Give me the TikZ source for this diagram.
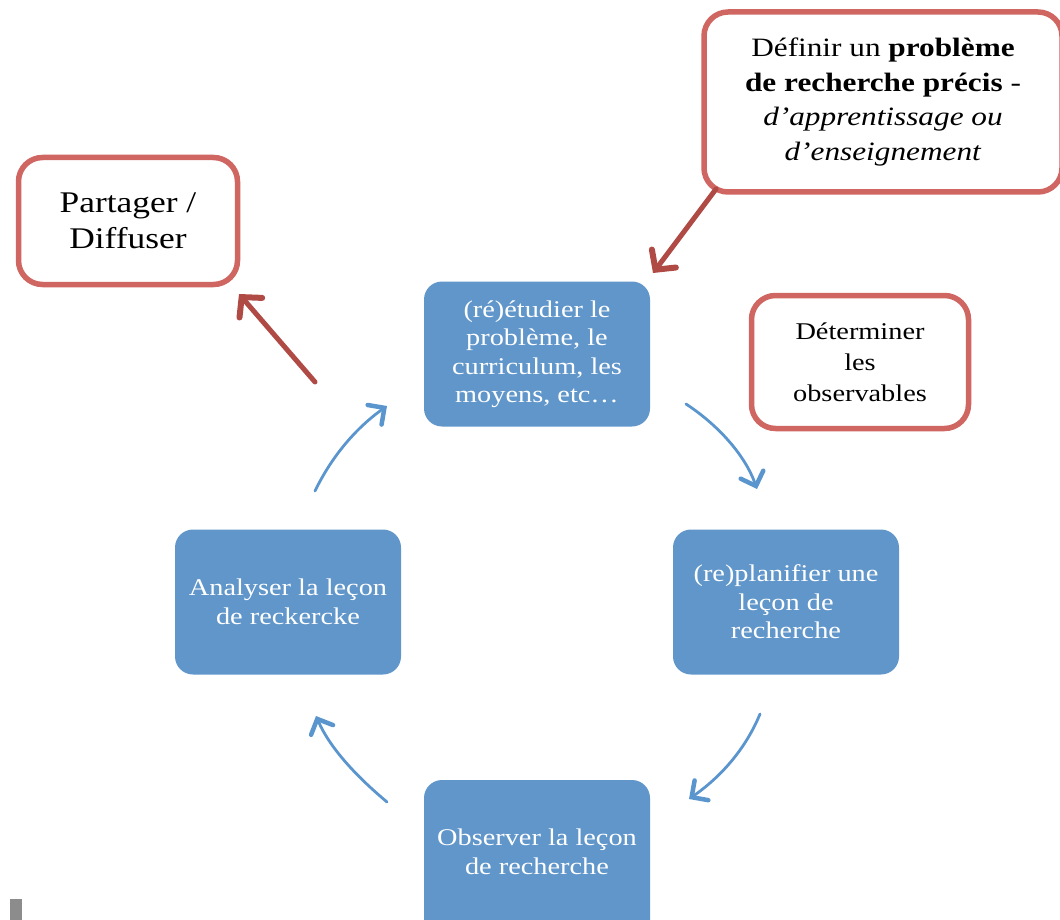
\documentclass[tikz,border=0pt]{standalone}
\usepackage{fontspec}
\setmainfont[FakeStretch=1.18]{Liberation Serif}
\usetikzlibrary{arrows.meta}
\definecolor{boxblue}{HTML}{6096CA}
\definecolor{boxred}{HTML}{CF6661}
\definecolor{arrred}{HTML}{B04A44}
\definecolor{arrblue}{HTML}{5B95CE}
\tikzset{
  bluebox/.style={fill=boxblue, draw=none, rounded corners=18pt, text=white,
    align=center, minimum width=226pt, minimum height=145pt, inner sep=2pt,
    font=\fontsize{24}{28.5}\selectfont},
  redbox/.style={fill=white, draw=boxred, line width=5.5pt, rounded corners=24pt,
    align=center, inner sep=2pt},
  cyc/.style={draw=arrblue, line width=2.8pt, line cap=round,
    -{Straight Barb[length=12pt, width=24pt, line cap=round, line width=4.5pt]}},
  redarr/.style={draw=arrred, line width=5pt, line cap=round,
    -{Straight Barb[length=14pt, width=30pt, line cap=round, line width=6pt]}},
}
\begin{document}
\begin{tikzpicture}[x=1pt,y=-1pt]
\useasboundingbox (0,0) rectangle (1060,920);
\clip (0,0) rectangle (1060,920);
% blue cycle boxes
\node[bluebox] (etud) at (537,354) {(ré)étudier le\\problème, le\\curriculum, les\\moyens, etc…};
\node[bluebox] (plan) at (786,602) {(re)planifier une\\leçon de\\recherche};
\node[bluebox, minimum height=170pt] (obs) at (537,865) {};
\node[text=white, align=center, font=\fontsize{24}{28.5}\selectfont] (obst) at (537,852) {Observer la leçon\\de recherche};
\node[bluebox] (ana) at (288,602) {Analyser la leçon\\de reckercke};
% red boxes
\node[redbox, minimum width=219pt, minimum height=127pt, font=\fontsize{30}{36}\selectfont] (part) at (128,221) {Partager /\\Diffuser};
\node[redbox, minimum width=358pt, minimum height=180pt, font=\fontsize{26.5}{34.5}\selectfont] (def) at (883,102) {Définir un \textbf{problème}\\\textbf{de recherche précis} -\\\textit{d’apprentissage ou}\\\textit{d’enseignement}};
\node[redbox, minimum width=217pt, minimum height=133pt, font=\fontsize{24}{31}\selectfont] (det) at (860,362) {Déterminer\\les\\observables};
% red arrows
\coordinate (d1) at (716,189);
\coordinate (d2) at (653,273);
\draw[redarr] (d1) -- (d2);
\coordinate (p1) at (315,382);
\coordinate (p2) at (239,294);
\draw[redarr] (p1) -- (p2);
% blue cycle arrows
\coordinate (a1) at (686,404);
\coordinate (a2) at (757,489);
\draw[cyc] (a1) .. controls (718,425) and (745,455) .. (a2);
\coordinate (b1) at (760,714);
\coordinate (b2) at (689,799);
\draw[cyc] (b1) .. controls (746,748) and (722,776) .. (b2);
\coordinate (c1) at (387,802);
\coordinate (c2) at (316,716);
\draw[cyc] (c1) .. controls (356,776) and (330,748) .. (c2);
\coordinate (e1) at (315,491);
\coordinate (e2) at (387,406);
\draw[cyc] (e1) .. controls (332,456) and (356,428) .. (e2);
% small gray mark
\fill[gray!90] (10,899) rectangle (22,920);
\end{tikzpicture}
\end{document}
